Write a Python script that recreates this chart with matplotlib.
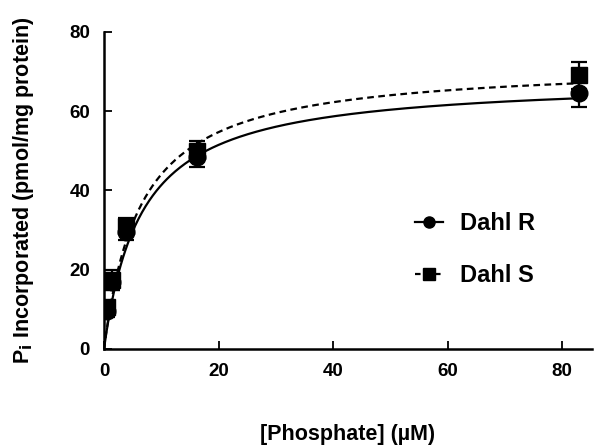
import numpy as np
import matplotlib
matplotlib.use("Agg")
import matplotlib.pyplot as plt

plt.rcParams['font.family'] = ['Liberation Sans', 'DejaVu Sans']
plt.rcParams['font.weight'] = 'bold'

# measured points
phosphate = [0.6, 1.4, 3.9, 16.3, 83.0]
dahl_r = [9.5, 17.0, 29.5, 48.5, 64.5]
dahl_r_err = [1.5, 2.0, 2.0, 2.5, 3.5]
dahl_s = [10.5, 17.5, 31.0, 50.0, 69.0]
dahl_s_err = [1.5, 2.5, 2.0, 2.5, 3.5]

# Michaelis-Menten fit parameters (Vmax, Km)
fit_r = (68.2, 6.5)
fit_s = (72.2, 6.4)

xticks = [0, 20, 40, 60, 80]
yticks = [0, 20, 40, 60, 80]


def mm(x, vmax, km):
    return vmax * x / (km + x)


fig = plt.figure(figsize=(6.01, 4.48), dpi=100)
ax = fig.add_axes([0.173, 0.221, 0.812, 0.708])

xs = np.linspace(0, 83, 400)
ax.plot(xs, mm(xs, *fit_r), color='black', lw=1.6, zorder=2)
ax.plot(xs, mm(xs, *fit_s), color='black', lw=1.6, ls=(0, (3.0, 2.0)), zorder=2)

ax.errorbar(phosphate, dahl_r, yerr=dahl_r_err, fmt='o', color='black',
            ms=12, capsize=6, capthick=1.6, elinewidth=1.6, zorder=3)
ax.errorbar(phosphate, dahl_s, yerr=dahl_s_err, fmt='s', color='black',
            ms=12, capsize=6, capthick=1.6, elinewidth=1.6, zorder=3)

# legend entries
ax.plot([], [], '-o', color='black', lw=1.6, ms=8, label='Dahl R')
ax.plot([], [], '--s', color='black', lw=1.6, ms=8, dashes=(2.5, 2.0), label='Dahl S')
handles, labels = ax.get_legend_handles_labels()
ax.legend(handles[-2:], labels[-2:], loc='upper left', bbox_to_anchor=(0.618, 0.462),
          frameon=False, fontsize=17, handlelength=1.2, handletextpad=0.7,
          labelspacing=1.25, borderaxespad=0)

ax.set_xlim(0, 85.2)
ax.set_ylim(0, 80)
ax.set_xticks(xticks)
ax.set_yticks(yticks)
ax.spines['top'].set_visible(False)
ax.spines['right'].set_visible(False)
for s in ('left', 'bottom'):
    ax.spines[s].set_linewidth(1.8)
ax.tick_params(direction='in', length=6, width=1.3, labelsize=13.5, pad=10)
for lab in ax.get_xticklabels() + ax.get_yticklabels():
    lab.set_fontweight('bold')

ax.set_xlabel('[Phosphate] (\u00b5M)', fontsize=15.5, fontweight='bold', labelpad=32)
ax.set_ylabel('P$_\\mathbf{i}$ Incorporated (pmol/mg protein)', fontsize=15.5,
              fontweight='bold', labelpad=24)

fig.savefig('out.png', dpi=100)
